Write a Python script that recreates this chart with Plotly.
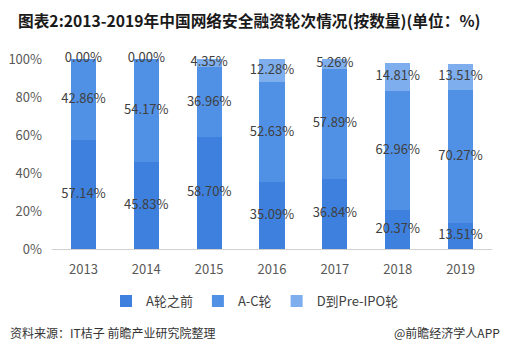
import plotly.graph_objects as go

years = ["2013", "2014", "2015", "2016", "2017", "2018", "2019"]
pre_a = [57.14, 45.83, 58.70, 35.09, 36.84, 20.37, 13.51]
a_to_c = [42.86, 54.17, 36.96, 52.63, 57.89, 62.96, 70.27]
d_to_preipo = [0.00, 0.00, 4.35, 12.28, 5.26, 14.81, 13.51]
series_names = ["A轮之前", "A-C轮", "D到Pre-IPO轮"]
colors = ["#3d80de", "#5191e5", "#7eaeee"]
ytick_vals = [0, 20, 40, 60, 80, 100]
ytick_text = ["0%", "20%", "40%", "60%", "80%", "100%"]

FONT = "Microsoft YaHei, Noto Sans CJK SC, sans-serif"

fig = go.Figure()
series = [pre_a, a_to_c, d_to_preipo]
for name, vals, c in zip(series_names, series, colors):
    fig.add_trace(go.Bar(x=years, y=vals, name=name, marker_color=c,
                         marker_line_width=0, hoverinfo="skip"))

# labels at middle of each segment
base = [0.0] * len(years)
for vals in series:
    mids = [b + v / 2 for b, v in zip(base, vals)]
    fig.add_trace(go.Scatter(x=years, y=mids, mode="text",
                             text=[f"{v:.2f}%" for v in vals],
                             textfont=dict(family=FONT, size=13, color="#404040"),
                             cliponaxis=False,
                             showlegend=False, hoverinfo="skip"))
    base = [b + v for b, v in zip(base, vals)]

# page body has an 8px margin, so the figure is sized/positioned to compensate
fig.update_layout(
    barmode="stack",
    bargap=0.6,
    width=500, height=349,
    margin=dict(l=44, r=16, t=51, b=108, autoexpand=False),
    paper_bgcolor="white", plot_bgcolor="white",
    font=dict(family=FONT, size=13, color="#595959"),
    title=dict(text="<b>图表2:2013-2019年中国网络安全融资轮次情况(按数量)(单位：%)</b>",
               x=0.02, xref="container", xanchor="left", y=0.96, yref="container",
               yanchor="middle",
               font=dict(size=15.7, color="#1a1a1a")),
    showlegend=True,
    legend=dict(orientation="h", xref="container", x=0.494, xanchor="center",
                yref="container", y=0.16, yanchor="middle",
                font=dict(size=13, color="#404040"), itemwidth=30,
                traceorder="normal"),
    xaxis=dict(showgrid=False, showline=True, linecolor="#d0d0d0", linewidth=1,
               ticks="", ticklabelstandoff=8, tickfont=dict(size=13, color="#595959")),
    yaxis=dict(range=[0, 100], tickvals=ytick_vals, ticktext=ytick_text,
               showgrid=False, zeroline=False, showline=False, ticklabelstandoff=9,
               tickfont=dict(size=13, color="#595959")),
    annotations=[
        dict(text="资料来源：IT桔子 前瞻产业研究院整理", xref="paper", yref="paper",
             x=-0.1, y=-0.442, xanchor="left", yanchor="middle", showarrow=False,
             font=dict(size=12, color="#333333")),
        dict(text="@前瞻经济学人APP", xref="paper", yref="paper",
             x=1.022, y=-0.442, xanchor="right", yanchor="middle", showarrow=False,
             font=dict(size=12, color="#333333")),
    ],
)

fig.write_html("out.html")
